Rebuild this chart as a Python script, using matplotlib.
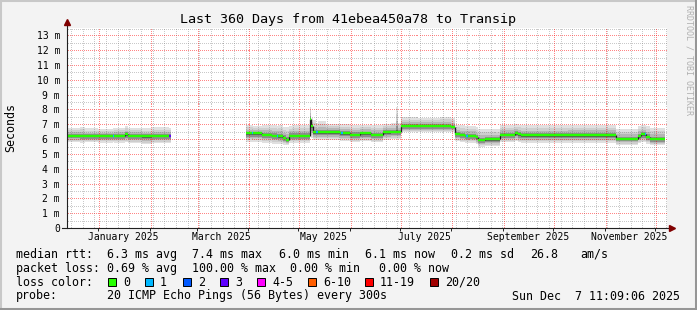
import numpy as np
import pandas as pd
import matplotlib
matplotlib.use("Agg")
import matplotlib.pyplot as plt
import matplotlib.dates as mdates
from matplotlib.patches import Rectangle
from matplotlib.lines import Line2D
from matplotlib.ticker import NullFormatter

plt.rcParams["font.family"] = ["DejaVu Sans Mono"]

# ---------------- data ----------------
title = "Last 360 Days from 41ebea450a78 to Transip"
x_start = "2024-12-13 04:00"
x_end = "2025-12-08 12:00"

times = [
    "2024-12-13 04:00", "2024-12-17 00:00", "2024-12-21 00:00", "2024-12-24 00:00",
    "2025-01-01 00:00", "2025-01-09 12:00", "2025-01-10 12:00", "2025-01-17 00:00",
    "2025-01-19 00:00", "2025-01-27 00:00", "2025-02-02 00:00", "2025-02-12 12:00",
    "2025-02-13 16:00",
    "2025-03-30 12:00", "2025-04-03 00:00", "2025-04-04 00:00", "2025-04-09 00:00",
    "2025-04-15 00:00", "2025-04-18 00:00", "2025-04-19 00:00", "2025-04-22 00:00",
    "2025-04-23 12:00", "2025-04-25 12:00", "2025-04-27 00:00", "2025-05-08 00:00",
    "2025-05-09 00:00", "2025-05-10 00:00", "2025-05-12 00:00", "2025-05-13 00:00",
    "2025-05-18 00:00", "2025-05-26 00:00", "2025-05-27 00:00", "2025-05-28 00:00",
    "2025-06-01 00:00", "2025-06-07 00:00", "2025-06-14 00:00", "2025-06-21 00:00",
    "2025-06-26 00:00", "2025-06-29 00:00", "2025-06-30 00:00", "2025-07-02 00:00",
    "2025-07-12 00:00", "2025-07-25 00:00", "2025-08-01 00:00", "2025-08-03 00:00",
    "2025-08-06 00:00", "2025-08-09 00:00", "2025-08-10 00:00", "2025-08-11 00:00",
    "2025-08-16 00:00", "2025-08-17 00:00", "2025-08-21 00:00", "2025-08-30 00:00",
    "2025-09-08 00:00", "2025-09-10 00:00", "2025-09-12 00:00", "2025-10-10 00:00",
    "2025-11-08 00:00", "2025-11-21 00:00", "2025-11-23 00:00", "2025-11-25 00:00",
    "2025-11-26 00:00", "2025-11-28 00:00", "2025-12-07 11:09",
]
# median rtt in ms (value holds until next time point)
median_ms = [
    6.24, 6.22, 6.22, 6.21, 6.22, 6.22, 6.22, 6.33, 6.22, 6.21, 6.22, 6.22,
    np.nan,
    6.38, 6.38, 6.38, 6.31, 6.22, 6.22, 6.20, 6.08, 5.96, 6.24, 6.22, 7.39,
    6.90, 6.46, 6.46, 6.46, 6.46, 6.40, 6.40, 6.40, 6.31, 6.38, 6.28, 6.46,
    6.50, 6.50, 6.50, 6.87, 6.86, 6.87, 6.82, 6.36, 6.28, 6.22, 6.22, 6.22,
    6.12, 5.93, 5.98, 6.28, 6.42, 6.33, 6.28, 6.28, 6.01, 6.20, 6.33, 6.33,
    6.15, 6.00, 6.00,
]
# upper edge of the smoke (ms)
smoke_hi = [
    6.72, 6.74, 6.82, 6.72, 6.70, 6.72, 6.76, 6.88, 6.78, 6.72, 6.80, 6.76,
    np.nan,
    6.95, 6.98, 6.90, 6.92, 6.98, 6.90, 6.92, 6.85, 6.82, 6.90, 6.95, 8.20,
    7.40, 7.30, 7.10, 7.20, 7.05, 7.00, 7.00, 7.00, 6.95, 6.98, 6.95, 7.05,
    7.10, 8.15, 7.10, 7.50, 7.45, 7.52, 7.45, 6.95, 6.92, 6.88, 6.88, 6.88,
    6.80, 6.65, 6.65, 6.95, 7.00, 6.98, 6.94, 6.96, 6.70, 6.90, 6.98, 6.98,
    6.90, 6.72, 6.72,
]
# lower edge of the smoke (ms)
smoke_lo = [
    5.78, 5.80, 5.76, 5.78, 5.75, 5.78, 5.77, 5.80, 5.74, 5.66, 5.72, 5.74,
    np.nan,
    5.82, 5.80, 5.82, 5.76, 5.70, 5.70, 5.68, 5.62, 5.58, 5.74, 5.76, 6.20,
    6.10, 5.95, 5.95, 5.95, 5.95, 5.90, 5.90, 5.88, 5.80, 5.85, 5.80, 5.95,
    5.98, 5.98, 5.98, 6.50, 6.48, 6.50, 6.45, 5.85, 5.80, 5.76, 5.76, 5.76,
    5.65, 5.50, 5.52, 5.78, 5.85, 5.80, 5.74, 5.75, 5.62, 5.72, 5.80, 5.80,
    5.68, 5.58, 5.58,
]
# lost pings (out of 20) per interval
loss = [
    0, 0, 0, 0, 0, 1, 0, 0, 0, 0, 0, 3,
    0,
    0, 1, 0, 0, 0, 1, 0, 0, 0, 0, 0, 0,
    0, 0, 1, 0, 0, 0, 1, 0, 0, 0, 0, 0,
    0, 0, 0, 0, 0, 0, 0, 0, 0, 0, 1, 0,
    0, 0, 0, 0, 0, 0, 0, 0, 0, 0, 0, 1,
    0, 0, 0,
]

loss_labels = ["0", "1", "2", "3", "4-5", "6-10", "11-19", "20/20"]
loss_colors = ["#26ff00", "#00b8ff", "#0059ff", "#5e00ff", "#ff00ff",
               "#ff5e00", "#ff0000", "#a10000"]

y_tick_values = list(range(0, 14))
y_tick_labels = ["0"] + [f"{v} m" for v in range(1, 14)]
y_minor_values = [v + 0.5 for v in range(0, 14)]
x_label_dates = ["2025-01-16", "2025-03-16", "2025-05-16", "2025-07-16",
                 "2025-09-16", "2025-11-16"]
x_label_texts = ["January 2025", "March 2025", "May 2025", "July 2025",
                 "September 2025", "November 2025"]

legend_rows = [
    [("median rtt:", 16), ("6.3 ms avg", 107), ("7.4 ms max", 192),
     ("6.0 ms min", 279), ("6.1 ms now", 365), ("0.2 ms sd", 451),
     ("26.8", 530), ("am/s", 580)],
    [("packet loss:", 16), ("0.69 % avg", 107), ("100.00 % max", 192),
     ("0.00 % min", 290), ("0.00 % now", 379)],
    [("loss color:", 16)],
    [("probe:", 16), ("20 ICMP Echo Pings (56 Bytes) every 300s", 107)],
]
timestamp = "Sun Dec  7 11:09:06 2025"

# ---------------- figure ----------------
W, H = 697, 310
PW, PH = 600, 200
YMAX = 13.5
BG = "#f3f3f3"
fig = plt.figure(figsize=(W / 100, H / 100), dpi=100, facecolor=BG)


def fx(x):
    return x / W


def fy(y):
    return 1 - y / H


ax = fig.add_axes([fx(67), fy(228), PW / W, PH / H])
ax.set_facecolor("white")
t = pd.to_datetime(times)
x0, x1 = pd.Timestamp(x_start), pd.Timestamp(x_end)
ax.set_xlim(x0, x1)
ax.set_ylim(0, YMAX)
for s in ax.spines.values():
    s.set_visible(False)


def steps(tt, vv):
    xs, ys = [], []
    for i in range(len(tt) - 1):
        xs += [tt[i], tt[i + 1]]
        ys += [vv[i], vv[i]]
    return np.array(xs), np.array(ys, dtype=float)


med = np.array(median_ms, dtype=float)
hi = np.array(smoke_hi, dtype=float)
lo = np.array(smoke_lo, dtype=float)
xs, med_s = steps(t, med)
_, hi_s = steps(t, hi)
_, lo_s = steps(t, lo)

# smoke layers: (fraction above, fraction below, colour)
layers = [(1.0, 1.0, "#e0e0e0"), (0.72, 0.8, "#cecece"), (0.45, 0.6, "#b6b6b6"),
          (0.22, 0.42, "#8e8e8e"), (0.08, 0.2, "#5a5a5a")]
for k, (fu, fd, c) in enumerate(layers):
    top = med_s + fu * (hi_s - med_s)
    bot = med_s - fd * (med_s - lo_s)
    ax.fill_between(xs, bot, top, color=c, lw=0, zorder=1 + k * 0.1)

# grid: 1-pixel dots every other pixel (rrdtool style), drawn over the smoke
GRID_MINOR = (0.45, 0.45, 0.45, 0.38)
GRID_MAJOR = (1.0, 0.0, 0.0, 0.48)
n0, n1 = mdates.date2num(x0), mdates.date2num(x1)
week_pos = mdates.WeekdayLocator(byweekday=mdates.SU).tick_values(x0, x1)
month_pos = mdates.MonthLocator().tick_values(x0, x1)
dot_kw = dict(ls="none", marker="s", ms=0.72, mew=0, antialiased=False,
              transform=ax.transAxes, clip_on=True)
hx = (np.arange(0, PW, 2) + 0.5) / PW
vy = (np.arange(1, PH, 2) + 0.5) / PH


def hline(v, c, z):
    r = int(round(v / YMAX * PH))
    r = min(max(r, 0), PH - 1)
    ax.plot(hx, np.full(hx.size, (r + 0.5) / PH), color=c, zorder=z, **dot_kw)


def vline(p, c, z):
    cc = int(round((p - n0) / (n1 - n0) * PW))
    if 0 <= cc < PW:
        ax.plot(np.full(vy.size, (cc + 0.5) / PW), vy, color=c, zorder=z, **dot_kw)


for v in y_minor_values:
    if v <= YMAX:
        hline(v, GRID_MINOR, 2.0)
for p in week_pos:
    if p not in month_pos:
        vline(p, GRID_MINOR, 2.0)
for v in y_tick_values[1:]:
    hline(v, GRID_MAJOR, 2.1)
for p in month_pos:
    vline(p, GRID_MAJOR, 2.2)

ax.set_yticks(y_tick_values)
ax.set_yticklabels(y_tick_labels)
ax.xaxis.set_major_locator(mdates.MonthLocator())
ax.xaxis.set_major_formatter(NullFormatter())
ax.tick_params(axis="y", which="both", length=0, pad=5, labelsize=7)
ax.tick_params(axis="x", which="major", direction="out", length=2.5, width=0.7,
               color="#202020", labelsize=7)
ax.tick_params(axis="x", which="minor", length=0)

# median line, vertical connectors dark, horizontal pieces coloured by loss
for i in range(1, len(t) - 1):
    a, b = med[i - 1], med[i]
    if not (np.isnan(a) or np.isnan(b)) and a != b:
        ax.plot([t[i], t[i]], [a, b], color="#1c1c1c", lw=0.9, zorder=3,
                solid_capstyle="butt")
for i in range(len(t) - 1):
    if np.isnan(med[i]):
        continue
    l = loss[i]
    idx = {0: 0, 1: 1, 2: 2, 3: 3}.get(l, 4 if l <= 5 else 5 if l <= 10 else 6 if l < 20 else 7)
    ax.plot([t[i], t[i + 1]], [med[i], med[i]], color=loss_colors[idx], lw=1.7,
            zorder=3.2, solid_capstyle="butt")

# x labels centred mid-month
for d, s in zip(x_label_dates, x_label_texts):
    ax.text(pd.Timestamp(d), -9.5 / PH, s, transform=ax.get_xaxis_transform(),
            ha="center", va="center", fontsize=7, clip_on=False)

# axes lines and arrows
ax.add_line(Line2D([-5 / PW, 603 / PW], [0, 0], transform=ax.transAxes,
                   color="#202020", lw=0.8, clip_on=False, zorder=5))
ax.add_line(Line2D([0, 0], [0, 204 / PH], transform=ax.transAxes,
                   color="#202020", lw=0.8, clip_on=False, zorder=5))
ax.plot([0], [206 / PH], marker="^", ms=4.2, color="#800000", mec="#800000",
        transform=ax.transAxes, clip_on=False, zorder=6)
ax.plot([605 / PW], [0], marker=">", ms=4.2, color="#800000", mec="#800000",
        transform=ax.transAxes, clip_on=False, zorder=6)

# titles
fig.text(fx(348.5), fy(19), title, ha="center", va="center", fontsize=9.6)
fig.text(fx(11), fy(128), "Seconds", rotation=90, ha="center", va="center", fontsize=8.4)
fig.text(fx(689), fy(60), "RRDTOOL / TOBI OETIKER", rotation=270, ha="center",
         va="center", fontsize=6, color="#b0b0b0")

# legend rows
row_y = [254.3, 268.3, 282.3, 296.0]
for y, row in zip(row_y, legend_rows):
    for s, x in row:
        fig.text(fx(x), fy(y), s, ha="left", va="center", fontsize=8.4)
fig.text(fx(680), fy(296.0), timestamp, ha="right", va="center", fontsize=8.4)

box_x = [108, 145, 183, 220, 257, 308, 365, 430]
for bx, lab, col in zip(box_x, loss_labels, loss_colors):
    fig.patches.append(Rectangle((fx(bx), fy(286.3)), 8 / W, 8 / H, transform=fig.transFigure,
                                 facecolor=col, edgecolor="black", lw=0.7))
    fig.text(fx(bx + 15), fy(282.3), lab, ha="left", va="center", fontsize=8.4)

# 3D frame
fig.add_artist(Line2D([0, 1], [1 - 1 / H, 1 - 1 / H], transform=fig.transFigure, color="#c8c8c8", lw=1.5))
fig.add_artist(Line2D([1 / W, 1 / W], [0, 1], transform=fig.transFigure, color="#c8c8c8", lw=1.5))
fig.add_artist(Line2D([0, 1], [1.5 / H, 1.5 / H], transform=fig.transFigure, color="#969696", lw=2.2))
fig.add_artist(Line2D([1 - 1.5 / W, 1 - 1.5 / W], [0, 1], transform=fig.transFigure, color="#969696", lw=2.2))

fig.savefig("out.png", dpi=100, facecolor=BG)
